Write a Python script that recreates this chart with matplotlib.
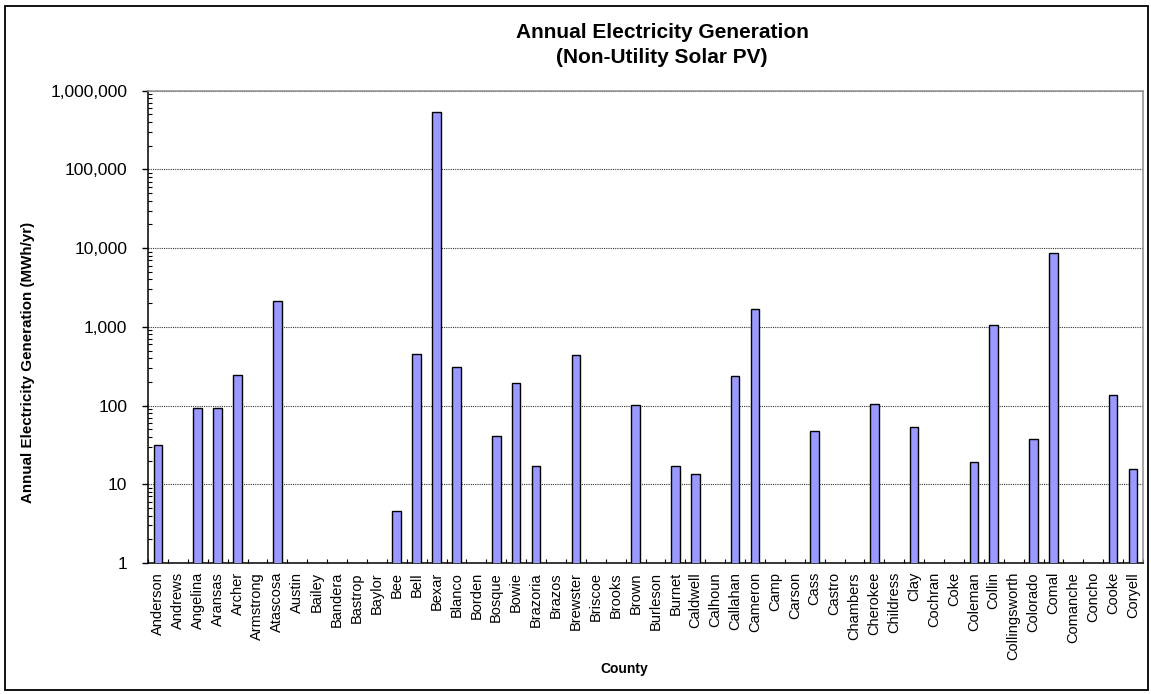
import matplotlib
matplotlib.use("Agg")
import matplotlib.pyplot as plt
from matplotlib.patches import Rectangle
from matplotlib.ticker import FixedLocator, LogLocator, NullFormatter, FuncFormatter
import numpy as np

plt.rcParams['font.family'] = ['Liberation Sans', 'DejaVu Sans']

counties = [
    "Anderson", "Andrews", "Angelina", "Aransas", "Archer", "Armstrong", "Atascosa",
    "Austin", "Bailey", "Bandera", "Bastrop", "Baylor", "Bee", "Bell", "Bexar",
    "Blanco", "Borden", "Bosque", "Bowie", "Brazoria", "Brazos", "Brewster",
    "Briscoe", "Brooks", "Brown", "Burleson", "Burnet", "Caldwell", "Calhoun",
    "Callahan", "Cameron", "Camp", "Carson", "Cass", "Castro", "Chambers",
    "Cherokee", "Childress", "Clay", "Cochran", "Coke", "Coleman", "Collin",
    "Collingsworth", "Colorado", "Comal", "Comanche", "Concho", "Cooke", "Coryell",
]
generation_mwh = [
    32, 0, 92, 93, 243, 0, 2100,
    0, 0, 0, 0, 0, 4.6, 454, 541000,
    305, 0, 41.5, 194, 16.9, 0, 433,
    0, 0, 103, 0, 17.3, 13.6, 0,
    238, 1710, 0, 0, 47.4, 0, 0,
    105, 0, 53, 0, 0, 19, 1060,
    0, 38, 8590, 0, 0, 136, 15.8,
]

W, H = 1151, 694
fig = plt.figure(figsize=(W / 100, H / 100), dpi=100)
ax_l, ax_r, ax_t, ax_b = 148, 1143, 90.7, 563
ax = fig.add_axes([ax_l / W, 1 - ax_b / H, (ax_r - ax_l) / W, (ax_b - ax_t) / H])

x = np.arange(len(counties))
vals = np.array(generation_mwh, dtype=float)
mask = vals > 0
ax.bar(x[mask], vals[mask], width=0.43, color="#9999FF",
       edgecolor="black", linewidth=1.0, zorder=3)

ax.set_yscale("log")
ax.set_ylim(1, 1e6)
ax.set_xlim(-0.5, len(counties) - 0.5)

# y axis: decade ticks with thousands separators
ax.yaxis.set_major_locator(LogLocator(base=10, numticks=10))
ax.yaxis.set_minor_locator(LogLocator(base=10, subs=np.arange(2, 10), numticks=100))
ax.yaxis.set_major_formatter(FuncFormatter(lambda v, p: f"{v:,.0f}"))
ax.yaxis.set_minor_formatter(NullFormatter())
ax.tick_params(axis="y", which="major", direction="out", length=4, width=1,
               pad=11, labelsize=12.5, colors="black")
ax.tick_params(axis="y", which="minor", direction="in", length=3, width=0.8)

# x axis: labels at categories, tick marks at category boundaries
ax.set_xticks(x)
ax.set_xticklabels(counties, rotation=90, fontsize=10.5)
ax.xaxis.set_minor_locator(FixedLocator(np.arange(-0.5, len(counties), 1.0)))
ax.tick_params(axis="x", which="major", length=0, pad=6.5)
ax.tick_params(axis="x", which="minor", direction="in", length=3, width=0.8)

ax.grid(axis="y", which="major", linestyle=(0, (1, 1)), color="#333333",
        linewidth=0.8, zorder=1)
ax.set_axisbelow(True)

for side in ("left", "bottom"):
    ax.spines[side].set_color("black")
    ax.spines[side].set_linewidth(1.1)
for side in ("top", "right"):
    ax.spines[side].set_color("#909090")
    ax.spines[side].set_linewidth(1.1)

ax.set_ylabel("Annual Electricity Generation (MWh/yr)", fontsize=10.9,
              fontweight="bold")
ax.yaxis.set_label_coords((35 - ax_l) / (ax_r - ax_l), (ax_b - 362) / (ax_b - ax_t))
ax.set_xlabel("County", fontsize=10, fontweight="bold")
ax.xaxis.set_label_coords((624 - ax_l) / (ax_r - ax_l), -(662 - ax_b) / (ax_b - ax_t))

fig.text(662 / W, 1 - 45 / H,
         "Annual Electricity Generation\n(Non-Utility Solar PV)",
         ha="center", va="center", fontsize=15, fontweight="bold",
         linespacing=1.38)

# Chart frame
fig.patches.append(Rectangle((4.5 / W, 1 - 690 / H), (1148 - 4.5) / W,
                             (690 - 5.5) / H, transform=fig.transFigure,
                             fill=False, edgecolor="black", linewidth=1.3))

fig.savefig("out.png", dpi=100)
